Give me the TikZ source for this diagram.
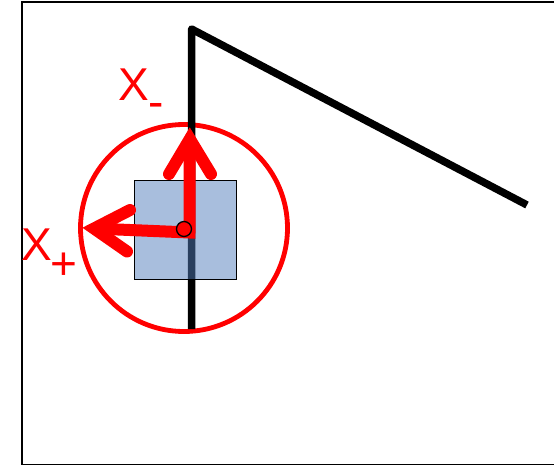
\documentclass[tikz,border=0pt]{standalone}
\usepackage{fontspec}
\setmainfont{Liberation Sans}
\definecolor{boxblue}{RGB}{82,126,188}
\definecolor{pptred}{RGB}{255,0,0}
\begin{document}
\begin{tikzpicture}[x=1pt,y=-1pt,
  frame/.style={draw=black,line width=1.5pt},
  beam/.style={draw=black,line width=7.5pt,line join=round,line cap=butt},
  mass/.style={draw=black,line width=0.9pt,fill=boxblue,fill opacity=0.5,draw opacity=1},
  ring/.style={draw=pptred,line width=4.8pt},
  shaft/.style={draw=pptred,line width=12pt,line join=miter,line cap=butt},
  barb/.style={draw=pptred,line width=12pt,line join=miter,line cap=round},
  pivot/.style={circle,draw=black,line width=1.3pt,fill=pptred,minimum size=15pt,inner sep=0pt},
  lbl/.style={text=pptred,font=\fontsize{46}{50}\selectfont,inner sep=0pt,anchor=base west}]
\useasboundingbox (0,0) rectangle (554,466);
% frame
\draw[frame] (22,2) rectangle (580,464.5);
% red circle
\coordinate (c) at (184,228);
\draw[ring] (c) circle[radius=103.5];
% black beam
\coordinate (b0) at (191.5,329);
\coordinate (b1) at (191.5,29);
\coordinate (b2) at (527,205);
\draw[beam] (b0) -- (b1) -- (b2);
% blue mass
\draw[mass] (134,180.3) rectangle (236,279);
% arrows
\coordinate (s) at (189.5,232.5);
\coordinate (tipU) at (189.8,139);
\coordinate (tipL) at (94,228.5);
\coordinate (bu1) at (169,174);
\coordinate (bu2) at (211,174);
\coordinate (bl1) at (130,210);
\coordinate (bl2) at (127,251.5);
\draw[shaft] (tipU) -- (s) -- (tipL);
\draw[barb] (bu1) -- (tipU) -- (bu2);
\draw[barb] (bl1) -- (tipL) -- (bl2);
% pivot
\node[pivot] (p) at (184,229) {};
% labels
\node[lbl] (xm) at (118,100) {X\raisebox{-17pt}{-}};
\node[lbl] (xp) at (21.5,260) {X\kern-2pt\raisebox{-19.5pt}{+}};
\end{tikzpicture}
\end{document}
